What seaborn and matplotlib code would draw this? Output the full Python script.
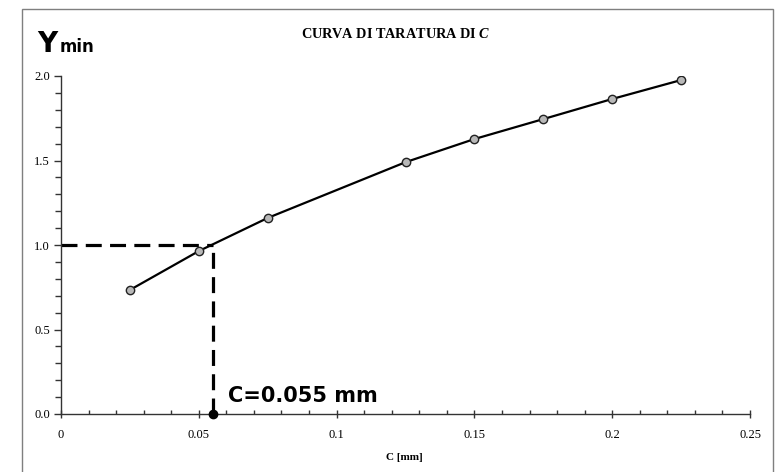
import matplotlib
matplotlib.use("Agg")
import matplotlib.pyplot as plt
import seaborn as sns
import pandas as pd
from matplotlib.patches import Rectangle
from matplotlib.ticker import MultipleLocator

sns.set_style("white")
plt.rcParams['font.family'] = ['Liberation Serif', 'DejaVu Serif']
plt.rcParams['mathtext.fontset'] = 'custom'
plt.rcParams['mathtext.it'] = 'Liberation Serif:italic:bold'
plt.rcParams['mathtext.rm'] = 'Liberation Serif:bold'
plt.rcParams['text.color'] = 'black'
plt.rcParams['xtick.color'] = 'black'
plt.rcParams['ytick.color'] = 'black'

# data
c_mm = [0.025, 0.05, 0.075, 0.125, 0.15, 0.175, 0.2, 0.225]
y_min = [0.734, 0.964, 1.16, 1.49, 1.627, 1.745, 1.864, 1.976]
c_read = 0.055
y_read = 1.0
x_ticks = [0, 0.05, 0.1, 0.15, 0.2, 0.25]
x_ticklabels = ["0", "0.05", "0.1", "0.15", "0.2", "0.25"]
y_ticks = [0.0, 0.5, 1.0, 1.5, 2.0]
y_ticklabels = ["0.0", "0.5", "1.0", "1.5", "2.0"]

df = pd.DataFrame({"C": c_mm, "Y": y_min})

fig = plt.figure(figsize=(7.77, 4.72), dpi=100)
ax = fig.add_axes([61/777, 58/472, (750-61)/777, (414-76)/472])

# outer frame
fig.patches.append(Rectangle((22/777, -0.05), (773-22)/777, 1.05 - 9/472,
                             transform=fig.transFigure, fill=False,
                             edgecolor='#7f7f7f', linewidth=1.0))

sns.lineplot(data=df, x="C", y="Y", ax=ax, color='black', linewidth=1.6,
             marker='o', markersize=6, markerfacecolor='#b8b8b8',
             markeredgecolor='#222222', markeredgewidth=1.0, zorder=3)

# reading lines
ax.plot([0, c_read], [y_read, y_read], color='black', linewidth=2.3,
        dashes=(5, 2.6), zorder=2, clip_on=False)
ax.plot([c_read, c_read], [0, y_read], color='black', linewidth=2.3,
        dashes=(5, 2.6), zorder=2, clip_on=False)
ax.plot([c_read], [0], 'o', color='black', markersize=6, zorder=5, clip_on=False)

ax.set_xlim(0, 0.25)
ax.set_ylim(0, 2.0)
ax.set_xticks(x_ticks)
ax.set_xticklabels(x_ticklabels)
ax.set_yticks(y_ticks)
ax.set_yticklabels(y_ticklabels)
ax.xaxis.set_minor_locator(MultipleLocator(0.01))
ax.yaxis.set_minor_locator(MultipleLocator(0.1))

for s in ['top', 'right']:
    ax.spines[s].set_visible(False)
for s in ['left', 'bottom']:
    ax.spines[s].set_color('#333333')
    ax.spines[s].set_linewidth(1.0)

ax.tick_params(which='both', bottom=True, left=True, top=False, right=False)
ax.tick_params(axis='x', which='major', direction='inout', length=6, width=1,
               labelsize=9, pad=8, color='#333333', labelcolor='black')
ax.tick_params(axis='x', which='minor', direction='in', length=3, width=1, color='#333333')
ax.tick_params(axis='y', which='major', direction='out', length=5, width=1,
               labelsize=9, pad=3, color='#333333', labelcolor='black')
ax.tick_params(axis='y', which='minor', direction='out', length=4, width=1, color='#333333')
ax.set_xlabel("")
ax.set_ylabel("")

fig.text(404/777, 1 - 458/472, "C [mm]", ha='center', va='center',
         fontsize=8, fontweight='bold', family='Liberation Serif', color='black')
fig.text(396/777, 1 - 34/472, r"CURVA DI TARATURA DI $C$", ha='center', va='center',
         fontsize=10.3, fontweight='bold', family='Liberation Serif', color='black')

fig.text(37/777, 1 - 52/472, "Y", ha='left', va='baseline', fontsize=20,
         fontweight='bold', family='DejaVu Sans', color='black')
fig.text(60/777, 1 - 52/472, "min", ha='left', va='baseline', fontsize=12,
         fontweight='bold', family='DejaVu Sans', color='black')

ax.text(0.0605, 0.105, "C=0.055 mm", ha='left', va='center', fontsize=15,
        fontweight='bold', family='DejaVu Sans', color='black')

fig.savefig("out.png", dpi=100, facecolor='white')
